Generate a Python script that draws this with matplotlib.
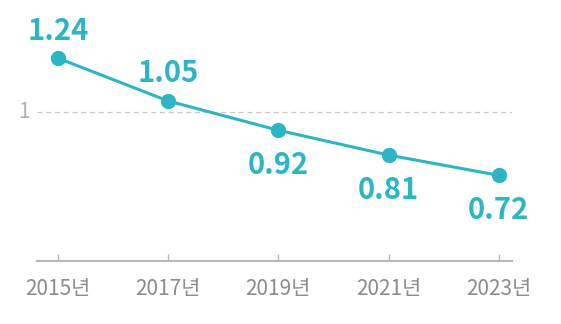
import matplotlib
matplotlib.use('Agg')
import matplotlib.pyplot as plt

years = ['2015년', '2017년', '2019년', '2021년', '2023년']
values = [1.24, 1.05, 0.92, 0.81, 0.72]
label_above = [True, True, False, False, False]

teal = '#2db5c3'
grey = '#8c8c8c'

plt.rcParams['font.family'] = ['Noto Sans CJK KR', 'DejaVu Sans']

fig = plt.figure(figsize=(5.61, 3.24), dpi=100)
ax = fig.add_axes([37 / 561, 1 - 261 / 324, 475 / 561, 261 / 324])
x = list(range(len(values)))

ax.set_xlim(-0.19, 4.12)
ax.set_ylim(0.34, 1.498)

# reference line at 1
ax.axhline(1, color='#c8c8c8', linestyle=(0, (4, 3)), linewidth=0.9, zorder=1)
ax.text(-0.26, 1, '1', ha='right', va='center', fontsize=15, color='#b0b0b0')

ax.plot(x, values, color=teal, linewidth=2.2, marker='o', markersize=10, zorder=3, clip_on=False)

for xi, v, up in zip(x, values, label_above):
    if up:
        ax.annotate(f'{v:.2f}', (xi, v), xytext=(0, 9), textcoords='offset points',
                    ha='center', va='bottom', fontsize=21, fontweight='black', color=teal)
    else:
        ax.annotate(f'{v:.2f}', (xi, v), xytext=(0, -14), textcoords='offset points',
                    ha='center', va='top', fontsize=21, fontweight='black', color=teal)

for s in ['top', 'right', 'left']:
    ax.spines[s].set_visible(False)
ax.spines['bottom'].set_color('#b8b8b8')
ax.spines['bottom'].set_linewidth(1.5)
ax.set_yticks([])
ax.set_xticks(x)
ax.set_xticklabels(years, fontsize=15, color=grey)
ax.tick_params(axis='x', direction='in', length=5, width=1, color='#b8b8b8', pad=12)

fig.savefig('out.png', dpi=100, facecolor='white')
